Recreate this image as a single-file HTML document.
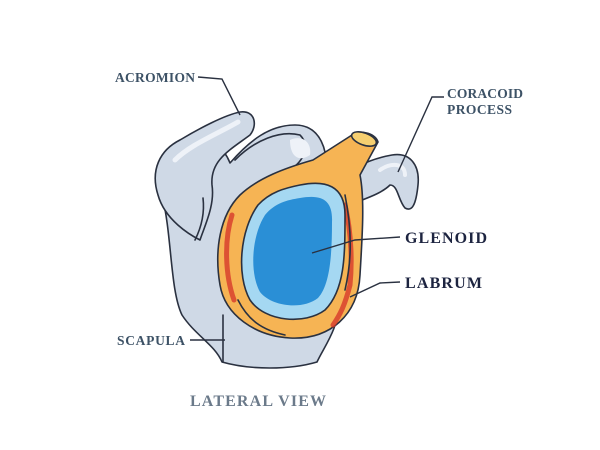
<!DOCTYPE html>
<html><head><style>
html,body{margin:0;padding:0;background:#fff;}
svg{display:block}
text{font-family:"Liberation Serif",serif;font-weight:bold;}
</style></head><body>
<svg width="600" height="450" viewBox="0 0 600 450" xmlns="http://www.w3.org/2000/svg">
<g stroke="#2a3140" stroke-width="1.6" stroke-linejoin="round" stroke-linecap="round">
<!-- scapula body -->
<path d="M162,195 C155,165 165,145 185,138 C210,132 225,150 230,163 C250,140 270,125 295,125 C320,125 330,150 325,180 L340,300 C338,330 325,345 317,362 C290,370 250,370 222,362 C215,345 195,335 182,315 C170,290 172,235 162,195 Z" fill="#cfd9e6"/>
<path d="M235,160 C255,140 280,130 300,135 C310,145 305,160 290,170" fill="none"/>
<path d="M290,140 C300,135 312,140 310,155 C300,162 290,158 290,140 Z" fill="#eef2f8" stroke="none"/>
<!-- acromion -->
<path d="M158,195 C150,170 160,150 180,140 C200,128 225,115 240,112 C255,110 258,125 250,135 C230,150 210,160 212,185 C215,205 205,225 200,240 C190,235 165,220 158,195 Z" fill="#cfd9e6"/>
<path d="M175,160 C190,145 215,135 238,122" fill="none" stroke="#eef2f8" stroke-width="5"/>
<path d="M203,198 C205,215 200,230 195,240" fill="none"/>
<path d="M223,315 L223,362" fill="none"/>
<!-- coracoid -->
<path d="M340,180 C355,165 375,158 392,155 C410,152 420,165 418,185 C416,205 412,212 405,208 C398,200 398,185 390,185 C380,195 360,200 350,205 Z" fill="#cfd9e6"/>
<path d="M380,170 C390,163 405,162 405,175" fill="none" stroke="#eef2f8" stroke-width="4"/>
<!-- labrum -->
<path d="M313,160 L352,135 C358,130 375,132 378,142 L360,175 C365,200 362,240 360,275 C358,315 330,340 290,338 C255,336 225,315 220,285 C214,250 220,215 240,195 C258,178 285,168 313,160 Z" fill="#f6b454"/>
<ellipse cx="364" cy="139" rx="13" ry="6" transform="rotate(20 364 139)" fill="#f6cf70"/>
<path d="M232,215 C224,240 225,275 234,300" fill="none" stroke="#d7392a" stroke-width="5" opacity="0.8"/>
<path d="M345,205 C352,235 352,265 350,285 C345,305 340,315 333,325" fill="none" stroke="#d7392a" stroke-width="5" opacity="0.8"/>
<path d="M238,300 C248,320 262,330 285,335" fill="none"/>
<path d="M345,195 C352,230 352,260 345,290" fill="none"/>
<!-- glenoid -->
<path d="M300,185 C325,180 345,185 345,215 C345,255 345,290 325,310 C305,325 265,322 250,300 C236,275 240,230 258,205 C270,192 285,188 300,185 Z" fill="#a5d8f2"/>
<path d="M300,198 C322,194 333,200 332,222 C332,255 330,285 318,298 C303,310 272,307 260,292 C249,272 252,235 265,215 C275,203 287,200 300,198 Z" fill="#2a8fd6" stroke="none"/>
</g>
<!-- leader lines -->
<g stroke="#2a3140" stroke-width="1.4" fill="none">
<path d="M198,77 L222,79 L240,115"/>
<path d="M444,97 L432,97 L398,172"/>
<path d="M400,237 L355,240 L312,253"/>
<path d="M400,282 L380,283 L350,297"/>
<path d="M190,340 L225,340"/>
</g>
<g fill="#3d5266" font-size="13.5">
<text x="115" y="82" textLength="80">ACROMION</text>
<text x="447" y="98" textLength="76">CORACOID</text>
<text x="447" y="114" textLength="65">PROCESS</text>
<text x="117" y="345" textLength="68">SCAPULA</text>
</g>
<g fill="#1d2440" font-size="16">
<text x="405" y="243" textLength="82">GLENOID</text>
<text x="405" y="288" textLength="77">LABRUM</text>
</g>
<text x="190" y="406" font-size="16" fill="#6b7a8a" textLength="136">LATERAL VIEW</text>
</svg>
</body></html>
